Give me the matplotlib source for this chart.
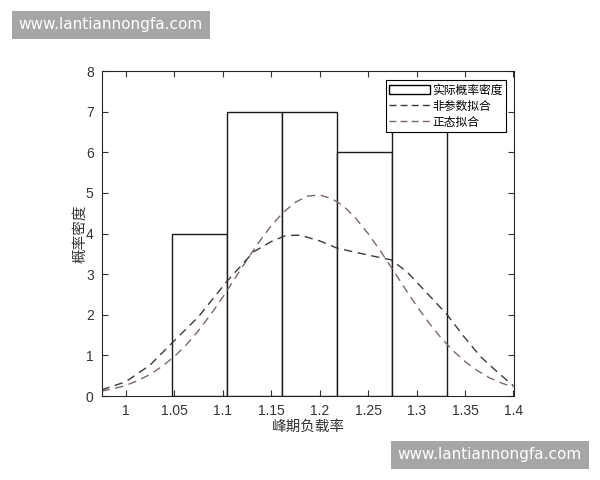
import matplotlib
matplotlib.use("Agg")
import matplotlib.pyplot as plt
from matplotlib.patches import Rectangle
from matplotlib.lines import Line2D

# ---- data ----
bin_edges = [1.0475, 1.1043, 1.1610, 1.2177, 1.2745, 1.3313]
bar_heights = [4, 7, 7, 6, 7]

kde_x = [0.975, 1.0, 1.025, 1.0475, 1.075, 1.1043, 1.132, 1.15, 1.165, 1.18,
         1.2, 1.218, 1.25, 1.274, 1.29, 1.311, 1.3316, 1.349, 1.366, 1.383,
         1.397, 1.4]
kde_y = [0.15, 0.35, 0.76, 1.30, 1.95, 2.82, 3.55, 3.80, 3.95, 3.96,
         3.82, 3.64, 3.47, 3.35, 3.06, 2.53, 2.00, 1.46, 0.97, 0.60,
         0.31, 0.25]

norm_x = [0.975, 0.9875, 1.0, 1.0125, 1.025, 1.0375, 1.05, 1.0625, 1.075, 1.0875,
          1.1, 1.1125, 1.125, 1.1375, 1.15, 1.1625, 1.175, 1.1875, 1.2, 1.2125,
          1.225, 1.2375, 1.25, 1.2625, 1.275, 1.2875, 1.3, 1.3125, 1.325, 1.3375,
          1.35, 1.3625, 1.375, 1.3875, 1.4]
norm_y = [0.12, 0.18, 0.26, 0.38, 0.53, 0.73, 0.97, 1.26, 1.61, 2.00,
          2.43, 2.89, 3.35, 3.79, 4.19, 4.52, 4.77, 4.92, 4.95, 4.86,
          4.67, 4.37, 4.00, 3.58, 3.13, 2.67, 2.22, 1.81, 1.44, 1.12,
          0.85, 0.63, 0.45, 0.32, 0.22]

x_ticks = [1, 1.05, 1.1, 1.15, 1.2, 1.25, 1.3, 1.35, 1.4]
x_tick_labels = ["1", "1.05", "1.1", "1.15", "1.2", "1.25", "1.3", "1.35", "1.4"]
y_ticks = [0, 1, 2, 3, 4, 5, 6, 7, 8]

legend_labels = ["实际概率密度", "非参数拟合", "正态拟合"]
x_label = "峰期负载率"
y_label = "概率密度"
watermark = "www.lantiannongfa.com"

# ---- plot ----
cjk = ["Noto Sans CJK SC", "DejaVu Sans"]
plt.rcParams["font.family"] = ["Liberation Sans", "DejaVu Sans"]

fig = plt.figure(figsize=(6, 4.8), dpi=100)
ax = fig.add_axes([0.170, 0.175, 0.687, 0.677])

widths = [bin_edges[i + 1] - bin_edges[i] for i in range(len(bar_heights))]
ax.bar(bin_edges[:-1], bar_heights, width=widths, align="edge",
       facecolor="white", edgecolor="#1a1a1a", linewidth=1.0, zorder=1)

dark = "#3a3a3a"
pink = "#7d6870"
ax.plot(kde_x, kde_y, color=dark, linestyle=(0, (6, 4)), linewidth=1.0, zorder=3)
ax.plot(norm_x, norm_y, color=pink, linestyle=(0, (6, 4)), linewidth=1.0, zorder=2)

ax.set_xlim(0.9755, 1.4008)
ax.set_ylim(0, 8)
ax.set_xticks(x_ticks)
ax.set_xticklabels(x_tick_labels)
ax.set_yticks(y_ticks)
ax.tick_params(direction="in", top=True, right=True, length=4, width=0.8,
               labelsize=10, colors="#333333", pad=6)
for s in ax.spines.values():
    s.set_color("#262626")
    s.set_linewidth(0.8)

ax.set_xlabel(x_label, family=cjk, fontsize=10.5, color="#333333", labelpad=1)
ax.set_ylabel(y_label, family=cjk, fontsize=10.5, color="#333333", labelpad=-1)

handles = [Rectangle((0, 0), 1, 1, facecolor="white", edgecolor="black", linewidth=1.0),
           Line2D([], [], color=dark, linestyle=(0, (5, 3)), linewidth=1.0),
           Line2D([], [], color=pink, linestyle=(0, (5, 3)), linewidth=1.0)]
leg = ax.legend(handles, legend_labels, loc="upper right",
                bbox_to_anchor=(0.98, 0.972), prop={"family": cjk, "size": 8.5},
                frameon=True, fancybox=False, edgecolor="black", framealpha=1,
                borderpad=0.3, labelspacing=0.25, handlelength=3.4,
                handletextpad=0.2, borderaxespad=0)
leg.get_frame().set_linewidth(0.8)

# watermarks
fig.text(110.5 / 600, 1 - 25 / 480, watermark, ha="center", va="center",
         color="white", fontsize=11, family="DejaVu Sans",
         bbox=dict(boxstyle="square,pad=0.45", facecolor="#a6a6a6", edgecolor="none"))
fig.text(489.5 / 600, 1 - 455 / 480, watermark, ha="center", va="center",
         color="white", fontsize=11, family="DejaVu Sans",
         bbox=dict(boxstyle="square,pad=0.45", facecolor="#a6a6a6", edgecolor="none"))

fig.savefig("out.png", dpi=100)
